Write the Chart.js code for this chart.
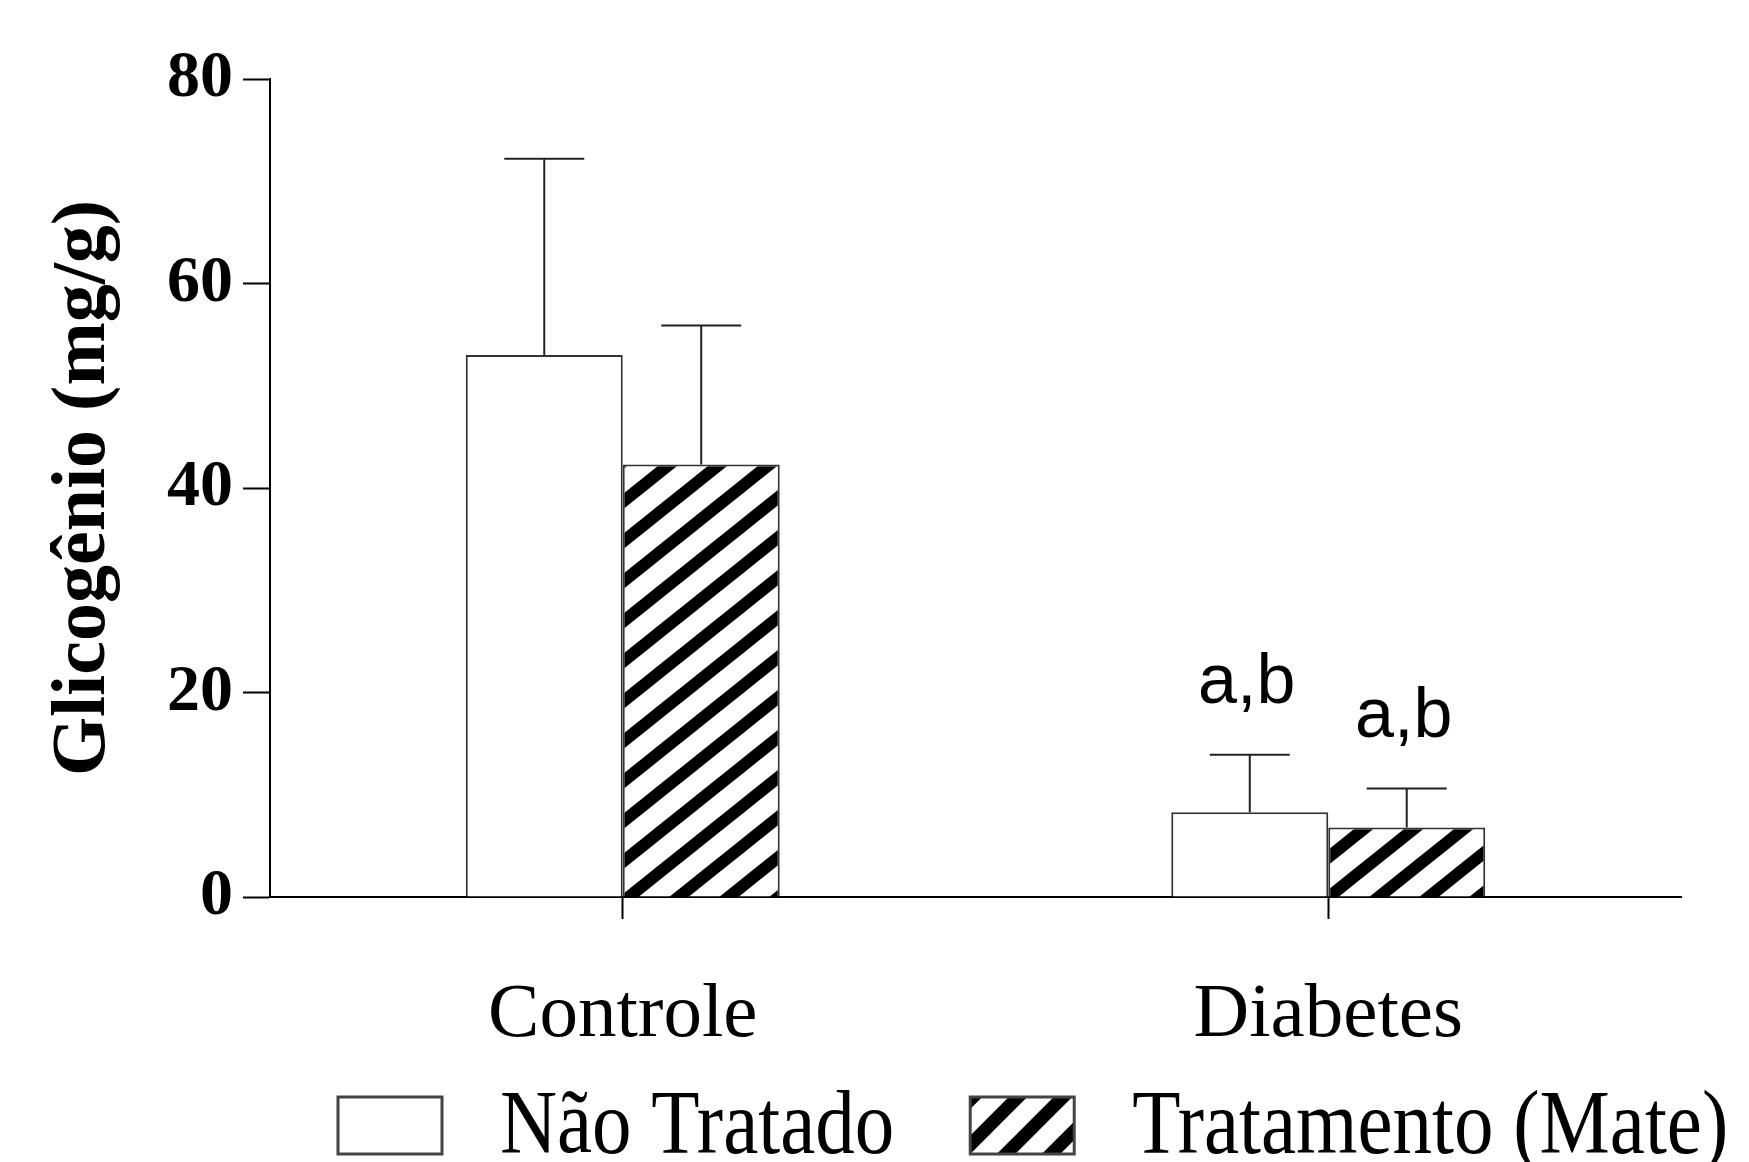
<!DOCTYPE html>
<html>
<head>
<meta charset="utf-8">
<script src="https://cdn.jsdelivr.net/npm/chart.js@4.4.0/dist/chart.umd.min.js"></script>
<style>
  body { margin: 0; background: #fff; }
  canvas { display: block; }
</style>
</head>
<body>
<canvas id="glicogenioChart" width="1749" height="1162"></canvas>
<script>
const categories = ['Controle', 'Diabetes']
const seriesNames = ['Não Tratado', 'Tratamento (Mate)']
const naoTratado = [53.0, 8.3]
const naoTratadoErr = [19.2, 5.6]
const mate = [42.3, 6.8]
const mateErr = [13.6, 3.8]
const naoTratadoLetters = ['', 'a,b']
const mateLetters = ['', 'a,b']
const yTicks = [0, 20, 40, 60, 80]
const yTitle = 'Glicogênio (mg/g)'

// diagonal stripes, bottom-left to top-right
// lines are drawn longer than the tile so the joins at the corners are not cut
function stripes(w, h, lw) {
    const c = document.createElement('canvas')
    c.width = w
    c.height = h
    const g = c.getContext('2d')
    g.fillStyle = '#fff'
    g.fillRect(0, 0, w, h)
    g.strokeStyle = '#000'
    g.lineWidth = lw
    for (const x0 of [-w, 0, w]) {
        g.beginPath()
        g.moveTo(x0 - w, 2 * h)
        g.lineTo(x0 + 2 * w, -h)
        g.stroke()
    }
    return g.createPattern(c, 'repeat')
}

const barHatch = stripes(50, 40, 12)
const legendHatch = stripes(45, 45, 13)

const errorBars = {
    id: 'errorBars',
    afterDatasetsDraw(chart) {
        const ctx = chart.ctx
        const yScale = chart.scales.y
        chart.data.datasets.forEach((ds, i) => {
            const meta = chart.getDatasetMeta(i)
            meta.data.forEach((bar, j) => {
                const top = yScale.getPixelForValue(ds.data[j] + ds.errors[j])
                ctx.save()
                ctx.strokeStyle = '#222'
                ctx.lineWidth = 2
                ctx.beginPath()
                ctx.moveTo(bar.x, bar.y)
                ctx.lineTo(bar.x, top)
                ctx.moveTo(bar.x - 40, top)
                ctx.lineTo(bar.x + 40, top)
                ctx.stroke()
                if (ds.letters[j]) {
                    ctx.fillStyle = '#000'
                    ctx.font = '70px "Liberation Sans", Arial, sans-serif'
                    ctx.textAlign = 'center'
                    ctx.textBaseline = 'alphabetic'
                    ctx.fillText(ds.letters[j], bar.x - 3, top - 52)
                }
                ctx.restore()
            })
        })
    }
}

const bottomLegend = {
    id: 'bottomLegend',
    afterDraw(chart) {
        const ctx = chart.ctx
        const boxW = 104, boxH = 57, boxTop = 1097, baseline = 1153
        let x = 338
        ctx.save()
        ctx.font = '79px "Liberation Serif", "Times New Roman", serif'
        chart.data.datasets.forEach((ds, i) => {
            ctx.fillStyle = i === 0 ? '#fff' : legendHatch
            ctx.fillRect(x, boxTop, boxW, boxH)
            ctx.strokeStyle = '#444'
            ctx.lineWidth = 3
            ctx.strokeRect(x, boxTop, boxW, boxH)
            const tx = x + boxW + 58
            ctx.save()
            ctx.translate(tx, baseline)
            ctx.scale(1, 1.14)
            ctx.fillStyle = '#000'
            ctx.textBaseline = 'alphabetic'
            ctx.fillText(ds.label, 0, 0)
            ctx.restore()
            x = tx + ctx.measureText(ds.label).width + 76
        })
        ctx.restore()
    }
}

const ctx = document.getElementById('glicogenioChart').getContext('2d')
new Chart(ctx, {
    type: 'bar',
    data: {
        labels: categories,
        datasets: [{
            label: seriesNames[0],
            data: naoTratado,
            errors: naoTratadoErr,
            letters: naoTratadoLetters,
            backgroundColor: '#fff',
            borderColor: '#333',
            borderWidth: 2
        }, {
            label: seriesNames[1],
            data: mate,
            errors: mateErr,
            letters: mateLetters,
            backgroundColor: barHatch,
            borderColor: '#333',
            borderWidth: 2
        }]
    },
    options: {
        responsive: false,
        animation: false,
        devicePixelRatio: 1,
        layout: { padding: { top: 79, right: 68, left: 0, bottom: 105 } },
        plugins: {
            legend: { display: false },
            tooltip: { enabled: false }
        },
        datasets: {
            bar: { barPercentage: 1, categoryPercentage: 0.445 }
        },
        scales: {
            x: {
                afterFit: s => { s.height = 160 },
                grid: {
                    offset: false,
                    drawOnChartArea: false,
                    tickLength: 22,
                    tickWidth: 2,
                    tickColor: '#000'
                },
                border: { color: '#000', width: 2 },
                ticks: {
                    color: '#000',
                    padding: 51,
                    font: { family: '"Liberation Serif", "Times New Roman", serif', size: 77 }
                }
            },
            y: {
                min: 0,
                max: 80,
                afterFit: s => { s.width = 270 },
                afterBuildTicks: s => { s.ticks = yTicks.map(v => ({ value: v })) },
                grid: {
                    drawOnChartArea: false,
                    tickLength: 27,
                    tickWidth: 2,
                    tickColor: '#000'
                },
                border: { color: '#000', width: 2 },
                ticks: {
                    color: '#000',
                    padding: 10,
                    font: { family: '"Liberation Serif", "Times New Roman", serif', size: 66, weight: 'bold' }
                },
                title: {
                    display: true,
                    text: yTitle,
                    color: '#000',
                    padding: { top: 39, bottom: 0 },
                    font: { family: '"Liberation Serif", "Times New Roman", serif', size: 76, weight: 'bold' }
                }
            }
        }
    },
    plugins: [errorBars, bottomLegend]
})
</script>
</body>
</html>
